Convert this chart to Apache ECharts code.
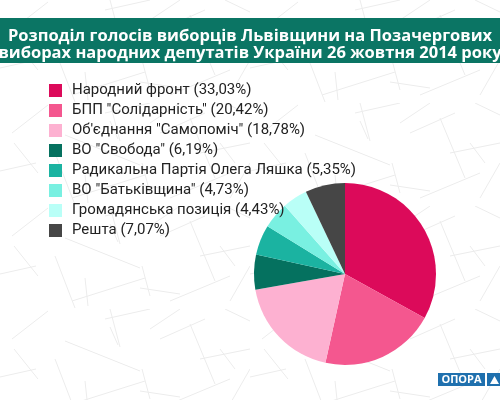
<!DOCTYPE html>
<html>
<head>
<meta charset="utf-8">
<script src="https://cdn.jsdelivr.net/npm/echarts@6/dist/echarts.min.js"></script>
<style>
  html, body { margin: 0; padding: 0; background: #fff; }
  #chart { width: 500px; height: 400px; }
</style>
</head>
<body>
<div id="chart"></div>
<script>
const titleLines = [
  "Розподіл голосів виборців Львівщини на Позачергових",
  "виборах народних депутатів України 26 жовтня 2014 року",
];
const parties = [
  "Народний фронт",
  "БПП \"Солідарність\"",
  "Об'єднання \"Самопоміч\"",
  "ВО \"Свобода\"",
  "Радикальна Партія Олега Ляшка",
  "ВО \"Батьківщина\"",
  "Громадянська позиція",
  "Решта",
];
const shares = [33.03, 20.42, 18.78, 6.19, 5.35, 4.73, 4.43, 7.07];
const colors = ["#dc0a5a", "#f4578f", "#fdb1d1", "#05715f", "#1bb3a1", "#79f0e1", "#b9fff7", "#464646"];

// faint crossed lines in the background, drawn on a repeating tile
function makeBackgroundTile() {
  const tile = document.createElement("canvas");
  tile.width = 250;
  tile.height = 103;
  const ctx = tile.getContext("2d");
  ctx.strokeStyle = "#ececec";
  ctx.lineWidth = 1;
  const strokes = [
    [12, 30, 48, 2], [14, 40, 38, 70], [0, 68, 36, 60], [55, 50, 75, 102],
    [65, 32, 140, 62], [85, 72, 88, 100], [72, 95, 145, 72], [110, 0, 120, 38],
    [105, 10, 150, 0], [110, 18, 118, 36], [142, 60, 150, 90], [150, 20, 180, 0],
    [160, 30, 205, 10], [140, 82, 180, 88], [170, 95, 230, 70], [190, 15, 215, 75],
    [220, 40, 235, 60], [225, 0, 250, 12], [230, 95, 250, 60], [200, 50, 250, 40],
  ];
  ctx.beginPath();
  strokes.forEach(([x1, y1, x2, y2]) => {
    ctx.moveTo(x1, y1);
    ctx.lineTo(x2, y2);
  });
  ctx.stroke();
  return tile;
}

function formatShare(value) {
  return value.toFixed(2).replace(".", ",") + "%";
}

const chart = echarts.init(document.getElementById("chart"));

const pieData = parties.map((name, i) => ({
  name,
  value: shares[i],
  itemStyle: { color: colors[i] },
}));

chart.setOption({
  animation: false,
  backgroundColor: { image: makeBackgroundTile(), repeat: "repeat" },
  title: {
    text: titleLines.join("\n"),
    left: "center",
    top: 23,
    textStyle: {
      color: "#ffffff",
      fontFamily: "Open Sans",
      fontWeight: "bold",
      fontSize: 16.5,
      lineHeight: 17,
    },
  },
  legend: {
    orient: "vertical",
    left: 44,
    top: 78,
    itemWidth: 13,
    itemHeight: 13,
    itemGap: 5,
    icon: "rect",
    selectedMode: false,
    textStyle: {
      color: "#222222",
      fontFamily: "Roboto",
      fontSize: 15,
      lineHeight: 15,
      padding: [0, 0, 0, 5],
    },
    formatter(name) {
      const idx = parties.indexOf(name);
      return `${name} (${formatShare(shares[idx])})`;
    },
  },
  graphic: [
    {
      type: "rect",
      z: -1,
      shape: { x: 0, y: 18, width: 500, height: 45 },
      style: { fill: "#0b7564" },
    },
    {
      type: "rect",
      shape: { x: 438, y: 373, width: 47, height: 13 },
      style: { fill: "#1f70ae" },
    },
    {
      type: "text",
      x: 461.5,
      y: 380,
      style: {
        text: "ОПОРА",
        fill: "#ffffff",
        font: "bold 11px 'Open Sans'",
        align: "center",
        verticalAlign: "middle",
      },
    },
    {
      type: "rect",
      shape: { x: 487, y: 373, width: 13, height: 13 },
      style: { fill: "#1f70ae" },
    },
    {
      type: "polygon",
      shape: { points: [[490, 384], [494.5, 376], [499, 384]] },
      style: { fill: "#ffffff" },
    },
  ],
  series: [
    {
      type: "pie",
      center: [345, 274],
      radius: 91,
      startAngle: 90,
      clockwise: true,
      label: { show: false },
      labelLine: { show: false },
      emphasis: { disabled: true },
      itemStyle: { borderWidth: 0 },
      data: pieData,
    },
  ],
});
</script>
</body>
</html>
